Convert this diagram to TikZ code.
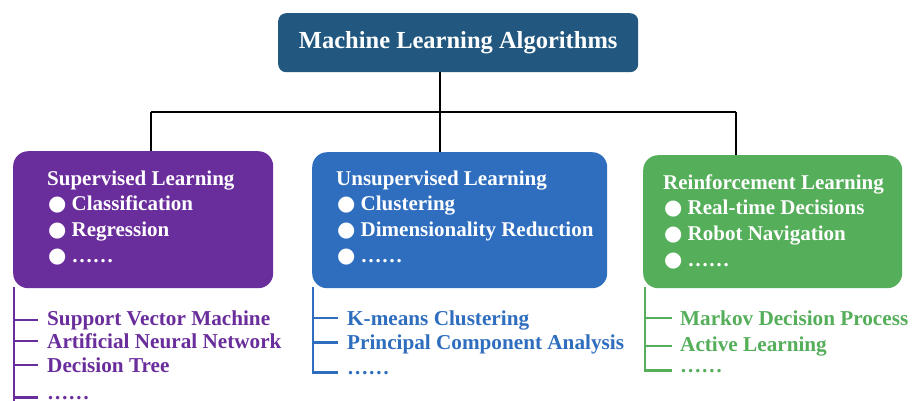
\documentclass[tikz,border=0pt]{standalone}
\usepackage{fontspec}
\setmainfont{Liberation Serif}
\newfontfamily\dejavu{DejaVu Sans}
\definecolor{topc}{HTML}{22587F}
\definecolor{purp}{HTML}{6A2D9C}
\definecolor{bluec}{HTML}{2F6EBF}
\definecolor{greenc}{HTML}{55AE5A}
\newcommand{\bul}{\makebox[24.5pt][l]{\hspace*{1pt}{\dejavu\fontsize{21}{21}\selectfont ●}}}
\tikzset{
  catbox/.style={draw=none, rounded corners=15pt, anchor=north west},
  cattext/.style={anchor=north west, align=left, inner sep=0pt, text=white,
    font=\bfseries\fontsize{21}{25.7}\selectfont},
  item/.style={anchor=base west, font=\bfseries\fontsize{21.2}{25}\selectfont, inner sep=0pt},
  conn/.style={line width=2.8pt, black},
  sub/.style={line width=2.5pt},
}
\begin{document}
\begin{tikzpicture}[x=1pt, y=-1pt]
\clip (0,0) rectangle (912,400);
\useasboundingbox (0,0) rectangle (912,400);
\fill[white] (0,0) rectangle (912,400);

% top
\node[draw=none, fill=topc, rounded corners=8pt, minimum width=360pt, minimum height=59pt,
  text=white, font=\bfseries\fontsize{24.5}{26}\selectfont, anchor=north west] (top) at (278,13)
  {Machine Learning Algorithms};

% category boxes
\node[catbox, fill=purp, minimum width=260pt, minimum height=137pt] (sup) at (13,151) {};
\node[catbox, fill=bluec, minimum width=295pt, minimum height=136pt] (uns) at (312,152) {};
\node[catbox, fill=greenc, minimum width=259pt, minimum height=133pt] (rl) at (643,155) {};

\node[cattext] (supt) at (47,170)
  {\rule{0pt}{15pt}Supervised Learning\\ \bul Classification\\ \bul Regression\\ \bul ……};
\node[cattext] (unst) at (336,170)
  {\rule{0pt}{15pt}Unsupervised Learning\\ \bul Clustering\\ \bul Dimensionality Reduction\\ \bul ……};
\node[cattext] (rlt) at (663,174)
  {\rule{0pt}{15pt}Reinforcement Learning\\ \bul Real-time Decisions\\ \bul Robot Navigation\\ \bul ……};

% tree connectors
\coordinate (hub) at (440,112);
\coordinate (j1) at (151,112);
\coordinate (j3) at (736,112);
\draw[conn] (hub |- top.south) -- (hub);
\draw[conn] (j1) -- (j3);
\draw[conn] (j1) -- (j1 |- sup.north);
\draw[conn] (hub) -- (hub |- uns.north);
\draw[conn] (j3) -- (j3 |- rl.north);

% supervised list
\begin{scope}[every node/.style={item, text=purp}]
\node (s1) at (47,325) {Support Vector Machine};
\node (s2) at (47,348.5) {Artificial Neural Network};
\node (s3) at (47,372) {Decision Tree};
\node (s4) at (47,399) {……};
\end{scope}
\coordinate (sv) at (14,287);
\coordinate (svend) at (14,410);
\draw[sub, purp] (sv) -- (svend);
\foreach \n in {s1,s2,s3}
  \draw[sub, purp] (\n.west -| sv) -- ([xshift=-9pt]\n.west);
\draw[sub, purp] ([yshift=1.5pt]s4.base west -| sv) -- ([xshift=-9pt, yshift=1.5pt]s4.base west);

% unsupervised list
\begin{scope}[every node/.style={item, text=bluec}]
\node (u1) at (347,325) {K-means Clustering};
\node (u2) at (347,349.5) {Principal Component Analysis};
\node (u3) at (347,374) {……};
\end{scope}
\coordinate (uv) at (313,287);
\draw[sub, bluec] (uv) |- ([xshift=-9pt, yshift=1.5pt]u3.base west);
\foreach \n in {u1,u2}
  \draw[sub, bluec] ([yshift=2pt]\n.west -| uv) -- ([xshift=-9pt, yshift=2pt]\n.west);

% reinforcement list
\begin{scope}[every node/.style={item, text=greenc}]
\node (r1) at (680,325) {Markov Decision Process};
\node (r2) at (680,351) {Active Learning};
\node (r3) at (680,372) {……};
\end{scope}
\coordinate (rv) at (645,287);
\draw[sub, greenc] (rv) |- ([xshift=-8pt, yshift=1.5pt]r3.base west);
\foreach \n in {r1,r2}
  \draw[sub, greenc] (\n.west -| rv) -- ([xshift=-8pt]\n.west);
\end{tikzpicture}
\end{document}
